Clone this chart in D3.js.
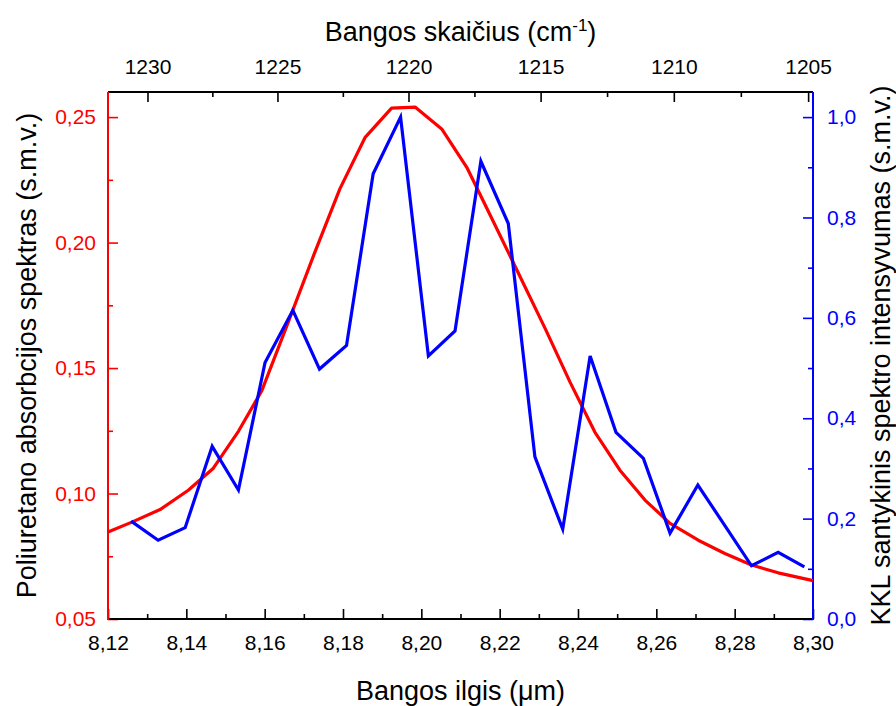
<!DOCTYPE html>
<html>
<head>
<meta charset="utf-8">
<script src="https://cdn.jsdelivr.net/npm/d3@7"></script>
<style>
  body { margin: 0; background: #fff; }
  text { font-family: Arial, "Liberation Sans", sans-serif; }
</style>
</head>
<body>
<script>
// red curve: polyurethane absorption spectrum (left axis)
const wlRed = [8.1200, 8.1261, 8.1333, 8.1405, 8.1469, 8.1533, 8.1593, 8.1660, 8.1726, 8.1792,
               8.1856, 8.1924, 8.1984, 8.2052, 8.2116, 8.2180, 8.2247, 8.2316, 8.2380, 8.2443,
               8.2507, 8.2571, 8.2635, 8.2707, 8.2775, 8.2843, 8.2911, 8.3000];
const absRed = [0.0847, 0.0886, 0.0936, 0.1013, 0.1101, 0.1248, 0.1411, 0.1682, 0.1953, 0.2214,
                0.2418, 0.2536, 0.2540, 0.2453, 0.2300, 0.2096, 0.1881, 0.1658, 0.1443, 0.1245,
                0.1093, 0.0974, 0.0881, 0.0814, 0.0761, 0.0715, 0.0684, 0.0653];

// blue curve: KKL relative spectral intensity (right axis)
const wlBlue = [8.1259, 8.1328, 8.1397, 8.1466, 8.1533, 8.1601, 8.1672, 8.1740, 8.1809, 8.1877,
                8.1947, 8.2018, 8.2086, 8.2152, 8.2222, 8.2290, 8.2361, 8.2431, 8.2497, 8.2567,
                8.2635, 8.2706, 8.2775, 8.2843, 8.2911, 8.2978];
const kklBlue = [0.195, 0.157, 0.182, 0.344, 0.257, 0.511, 0.615, 0.498, 0.545, 0.887,
                 1.000, 0.524, 0.574, 0.912, 0.788, 0.323, 0.179, 0.524, 0.372, 0.320,
                 0.171, 0.267, 0.186, 0.106, 0.133, 0.104];

const xTicks = [8.12, 8.14, 8.16, 8.18, 8.20, 8.22, 8.24, 8.26, 8.28, 8.30];
const wnTicks = [1230, 1225, 1220, 1215, 1210, 1205];
const yLTicks = [0.05, 0.10, 0.15, 0.20, 0.25];
const yRTicks = [0.0, 0.2, 0.4, 0.6, 0.8, 1.0];

// minor tick values
const xMinor = [8.13, 8.15, 8.17, 8.19, 8.21, 8.23, 8.25, 8.27, 8.29];
const wnMinor = [1227.5, 1222.5, 1217.5, 1212.5, 1207.5];
const yLMinor = [0.075, 0.125, 0.175, 0.225];
const yRMinor = [0.1, 0.3, 0.5, 0.7, 0.9];

const width = 896, height = 706;
const pLeft = 108, pRight = 813, pTop = 92, pBottom = 619;

const lt = d3.formatLocale({decimal: ",", thousands: " ", grouping: [3], currency: ["", ""]});

const x = d3.scaleLinear().domain([8.12, 8.30]).range([pLeft, pRight]);
const yL = d3.scaleLinear().domain([0.05, 0.26]).range([pBottom, pTop]);
const yR = d3.scaleLinear().domain([0, 1.05]).range([pBottom, pTop]);

const svg = d3.select("body").append("svg")
    .attr("width", width)
    .attr("height", height);

function styleAxis(g, color) {
    g.select(".domain").remove();
    g.selectAll("line").attr("stroke", color).attr("stroke-width", 1.6);
    g.selectAll("text").attr("fill", color).attr("font-size", 21);
}

// bottom axis
svg.append("g").attr("transform", "translate(0," + pBottom + ")")
    .call(d3.axisBottom(x).tickValues(xTicks).tickFormat(lt.format(".2f")).tickSize(-10).tickPadding(16))
    .call(g => styleAxis(g, "#000"));
svg.append("g").attr("transform", "translate(0," + pBottom + ")")
    .call(d3.axisBottom(x).tickValues(xMinor).tickFormat("").tickSize(-5))
    .call(g => styleAxis(g, "#000"));

// top axis: wavenumber = 10000 / wavelength
svg.append("g").attr("transform", "translate(0," + pTop + ")")
    .call(d3.axisTop(x).tickValues(wnTicks.map(v => 1e4 / v))
        .tickFormat(d => Math.round(1e4 / d)).tickSize(-10).tickPadding(18))
    .call(g => styleAxis(g, "#000"));
svg.append("g").attr("transform", "translate(0," + pTop + ")")
    .call(d3.axisTop(x).tickValues(wnMinor.map(v => 1e4 / v)).tickFormat("").tickSize(-5))
    .call(g => styleAxis(g, "#000"));

// left axis
svg.append("g").attr("transform", "translate(" + pLeft + ",0)")
    .call(d3.axisLeft(yL).tickValues(yLTicks).tickFormat(lt.format(".2f")).tickSize(-10).tickPadding(12))
    .call(g => styleAxis(g, "#ff0000"));
svg.append("g").attr("transform", "translate(" + pLeft + ",0)")
    .call(d3.axisLeft(yL).tickValues(yLMinor).tickFormat("").tickSize(-5))
    .call(g => styleAxis(g, "#ff0000"));

// right axis
svg.append("g").attr("transform", "translate(" + pRight + ",0)")
    .call(d3.axisRight(yR).tickValues(yRTicks).tickFormat(lt.format(".1f")).tickSize(-10).tickPadding(14))
    .call(g => styleAxis(g, "#0000ff"));
svg.append("g").attr("transform", "translate(" + pRight + ",0)")
    .call(d3.axisRight(yR).tickValues(yRMinor).tickFormat("").tickSize(-5))
    .call(g => styleAxis(g, "#0000ff"));

// frame lines
svg.append("line").attr("x1", pLeft).attr("x2", pRight).attr("y1", pTop).attr("y2", pTop)
    .attr("stroke", "#000").attr("stroke-width", 2);
svg.append("line").attr("x1", pLeft).attr("x2", pRight).attr("y1", pBottom).attr("y2", pBottom)
    .attr("stroke", "#000").attr("stroke-width", 2);
svg.append("line").attr("x1", pLeft).attr("x2", pLeft).attr("y1", pTop).attr("y2", pBottom + 1)
    .attr("stroke", "#ff0000").attr("stroke-width", 2);
svg.append("line").attr("x1", pRight).attr("x2", pRight).attr("y1", pTop).attr("y2", pBottom + 1)
    .attr("stroke", "#0000ff").attr("stroke-width", 2);

// curves
const redLine = d3.line().x((d, i) => x(wlRed[i])).y(d => yL(d));
const blueLine = d3.line().x((d, i) => x(wlBlue[i])).y(d => yR(d));

svg.append("path").datum(absRed)
    .attr("d", redLine)
    .attr("fill", "none").attr("stroke", "#ff0000").attr("stroke-width", 3.2)
    .attr("stroke-linejoin", "round");

svg.append("path").datum(kklBlue)
    .attr("d", blueLine)
    .attr("fill", "none").attr("stroke", "#0000ff").attr("stroke-width", 3.2)
    .attr("stroke-linejoin", "miter");

// axis titles
const cx = (pLeft + pRight) / 2, cy = (pTop + pBottom) / 2;

svg.append("text")
    .attr("x", cx).attr("y", 700)
    .attr("text-anchor", "middle").attr("font-size", 27)
    .text("Bangos ilgis (\u03bcm)");

const tt = svg.append("text")
    .attr("x", cx).attr("y", 41)
    .attr("text-anchor", "middle").attr("font-size", 27);
tt.append("tspan").text("Bangos skaičius (cm");
tt.append("tspan").attr("font-size", 17).attr("dy", -10).text("-1");
tt.append("tspan").attr("dy", 10).text(")");

svg.append("text")
    .attr("transform", "translate(36," + cy + ") rotate(-90)")
    .attr("text-anchor", "middle").attr("font-size", 27)
    .text("Poliuretano absorbcijos spektras (s.m.v.)");

svg.append("text")
    .attr("transform", "translate(890," + cy + ") rotate(-90)")
    .attr("text-anchor", "middle").attr("font-size", 27)
    .text("KKL santykinis spektro intensyvumas (s.m.v.)");
</script>
</body>
</html>
